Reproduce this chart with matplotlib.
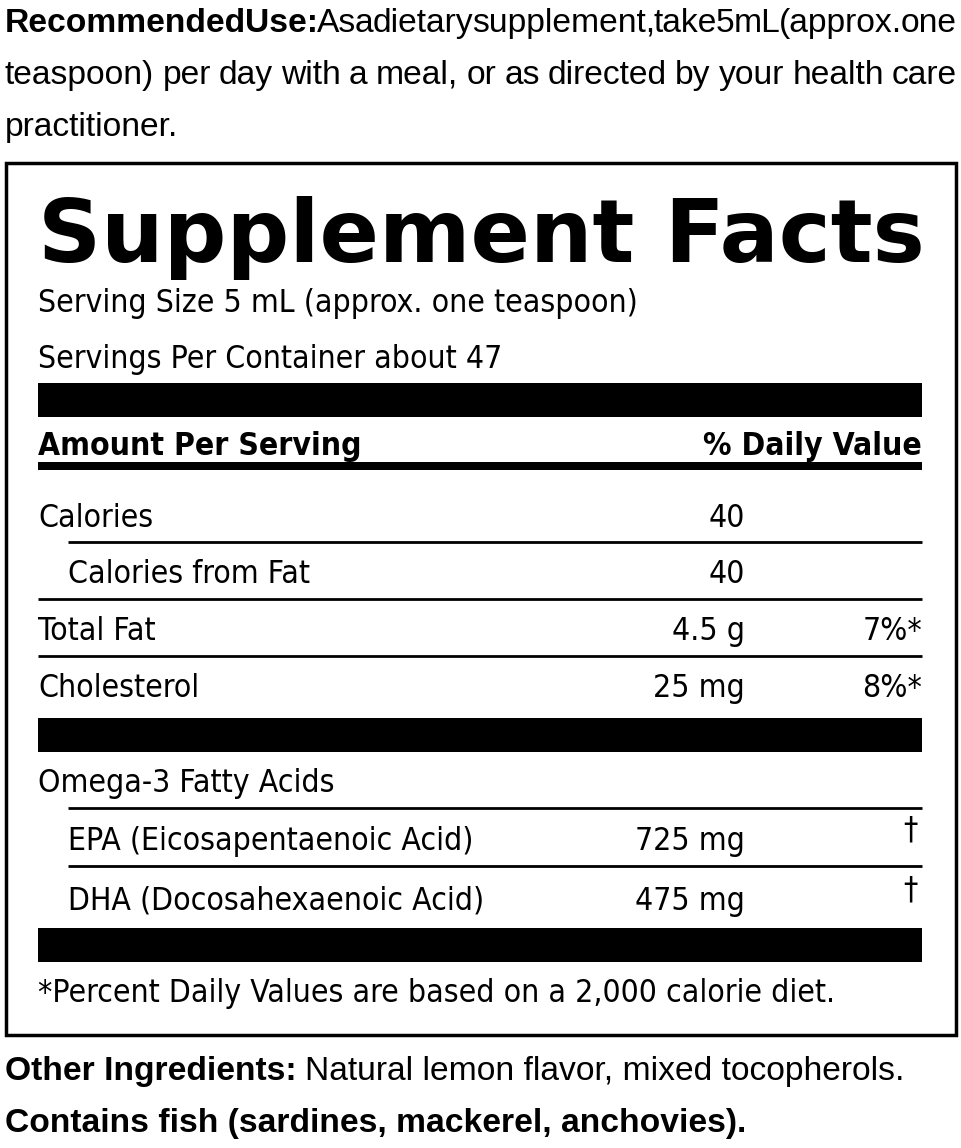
import matplotlib
matplotlib.use("Agg")
import matplotlib.pyplot as plt
from matplotlib.patches import Rectangle
from matplotlib import font_manager as fm

W, H = 962, 1148
names = {f.name for f in fm.fontManager.ttflist}
NARROW = "Liberation Sans Narrow" if "Liberation Sans Narrow" in names else "DejaVu Sans"
STRETCH = "condensed"
SANS = "Liberation Sans"

title = "Supplement Facts"
serving = ["Serving Size 5 mL (approx. one teaspoon)", "Servings Per Container about 47"]
header = ["Amount Per Serving", "% Daily Value"]
rows = [("Calories", "40", "", 0), ("Calories from Fat", "40", "", 1),
        ("Total Fat", "4.5 g", "7%*", 0), ("Cholesterol", "25 mg", "8%*", 0)]
omega_title = "Omega-3 Fatty Acids"
omega = [("EPA (Eicosapentaenoic Acid)", "725 mg", "†"), ("DHA (Docosahexaenoic Acid)", "475 mg", "†")]
footnote = "*Percent Daily Values are based on a 2,000 calorie diet."
rec_label = "Recommended Use:"
rec_lines = ["As a dietary supplement, take 5 mL (approx. one", "teaspoon) per day with a meal, or as directed by your health care", "practitioner."]
other_label = "Other Ingredients:"
other_text = "Natural lemon flavor, mixed tocopherols."
contains = "Contains fish (sardines, mackerel, anchovies)."

fig = plt.figure(figsize=(W/100, H/100), dpi=100)
ax = fig.add_axes([0, 0, 1, 1])
ax.set_xlim(0, W); ax.set_ylim(H, 0); ax.axis("off")
r = fig.canvas.get_renderer()

def width(t):
    return t.get_window_extent(r).width

def txt(x, y, s, size, family=NARROW, weight="normal", ha="left", stretch=STRETCH):
    return ax.text(x, y, s, fontsize=size, family=family, weight=weight, ha=ha,
                   va="baseline", color="black", fontstretch=stretch)

def fit(x, y, s, w, family=NARROW, weight="normal", ha="left", stretch=STRETCH):
    t = txt(x, y, s, 20, family, weight, ha, stretch)
    t.set_fontsize(20 * w / width(t))
    return t

t0 = fit(38, 312, serving[0], 598)
BS = t0.get_fontsize()
txt(38, 368, serving[1], BS)

# paragraph size: fit "Other Ingredients" line
tl = txt(5, 1080, other_label, 20, SANS, "bold", stretch="normal")
tr = txt(0, 1080, other_text, 20, SANS, stretch="normal")
scale = (897 - 8) / (width(tl) + width(tr))
PS = 20 * scale
tl.set_fontsize(PS); tr.set_fontsize(PS)
tr.set_x(5 + width(tl) + 8)

def justified(y, words, weights, x0=5, x1=957):
    ts = [txt(0, y, w, PS, SANS, wt, stretch="normal") for w, wt in zip(words, weights)]
    ws = [width(t) for t in ts]
    sp = (x1 - x0 - sum(ws)) / (len(ts) - 1)
    x = x0
    for t, w in zip(ts, ws):
        t.set_x(x); x += w + sp
w1 = ["Recommended", "Use:"] + rec_lines[0].split()
justified(32, w1, ["bold"]*2 + ["normal"]*(len(w1)-2))
w2 = rec_lines[1].split()
justified(84, w2, ["normal"]*len(w2))
txt(5, 136, rec_lines[2], PS, SANS, stretch="normal")
txt(5, 1132, contains, PS, SANS, "bold", stretch="normal")

ax.add_patch(Rectangle((6, 163), 950, 872, fill=False, lw=2.5, ec="black"))
fit(38, 262, title, 886, family="DejaVu Sans", weight="heavy", stretch="normal")

def bar(y0, y1, x0=38, x1=922):
    ax.add_patch(Rectangle((x0, y0), x1-x0, y1-y0, color="black", lw=0))
def line(y, x0=38, lw=2):
    ax.plot([x0, 922], [y, y], color="black", lw=lw, solid_capstyle="butt")

bar(383, 417)
txt(38, 455, header[0], BS, weight="bold")
txt(922, 455, header[1], BS, weight="bold", ha="right")
bar(462, 470)
ys = [527, 583, 640, 697]
for i, (lab, amt, dv, ind) in enumerate(rows):
    txt(38 + 30*ind, ys[i], lab, BS)
    txt(745, ys[i], amt, BS, ha="right")
    if dv: txt(922, ys[i], dv, BS, ha="right")
line(542, 68); line(599); line(656)
bar(718, 752)
txt(38, 792, omega_title, BS)
line(808, 68)
oy = [850, 910]
for i, (lab, amt, dv) in enumerate(omega):
    txt(68, oy[i], lab, BS)
    txt(745, oy[i], amt, BS, ha="right")
    txt(918, oy[i] - 12, dv, BS, ha="right")
line(866, 68)
bar(928, 962)
txt(38, 1002, footnote, BS)

fig.savefig("out.png", dpi=100)
